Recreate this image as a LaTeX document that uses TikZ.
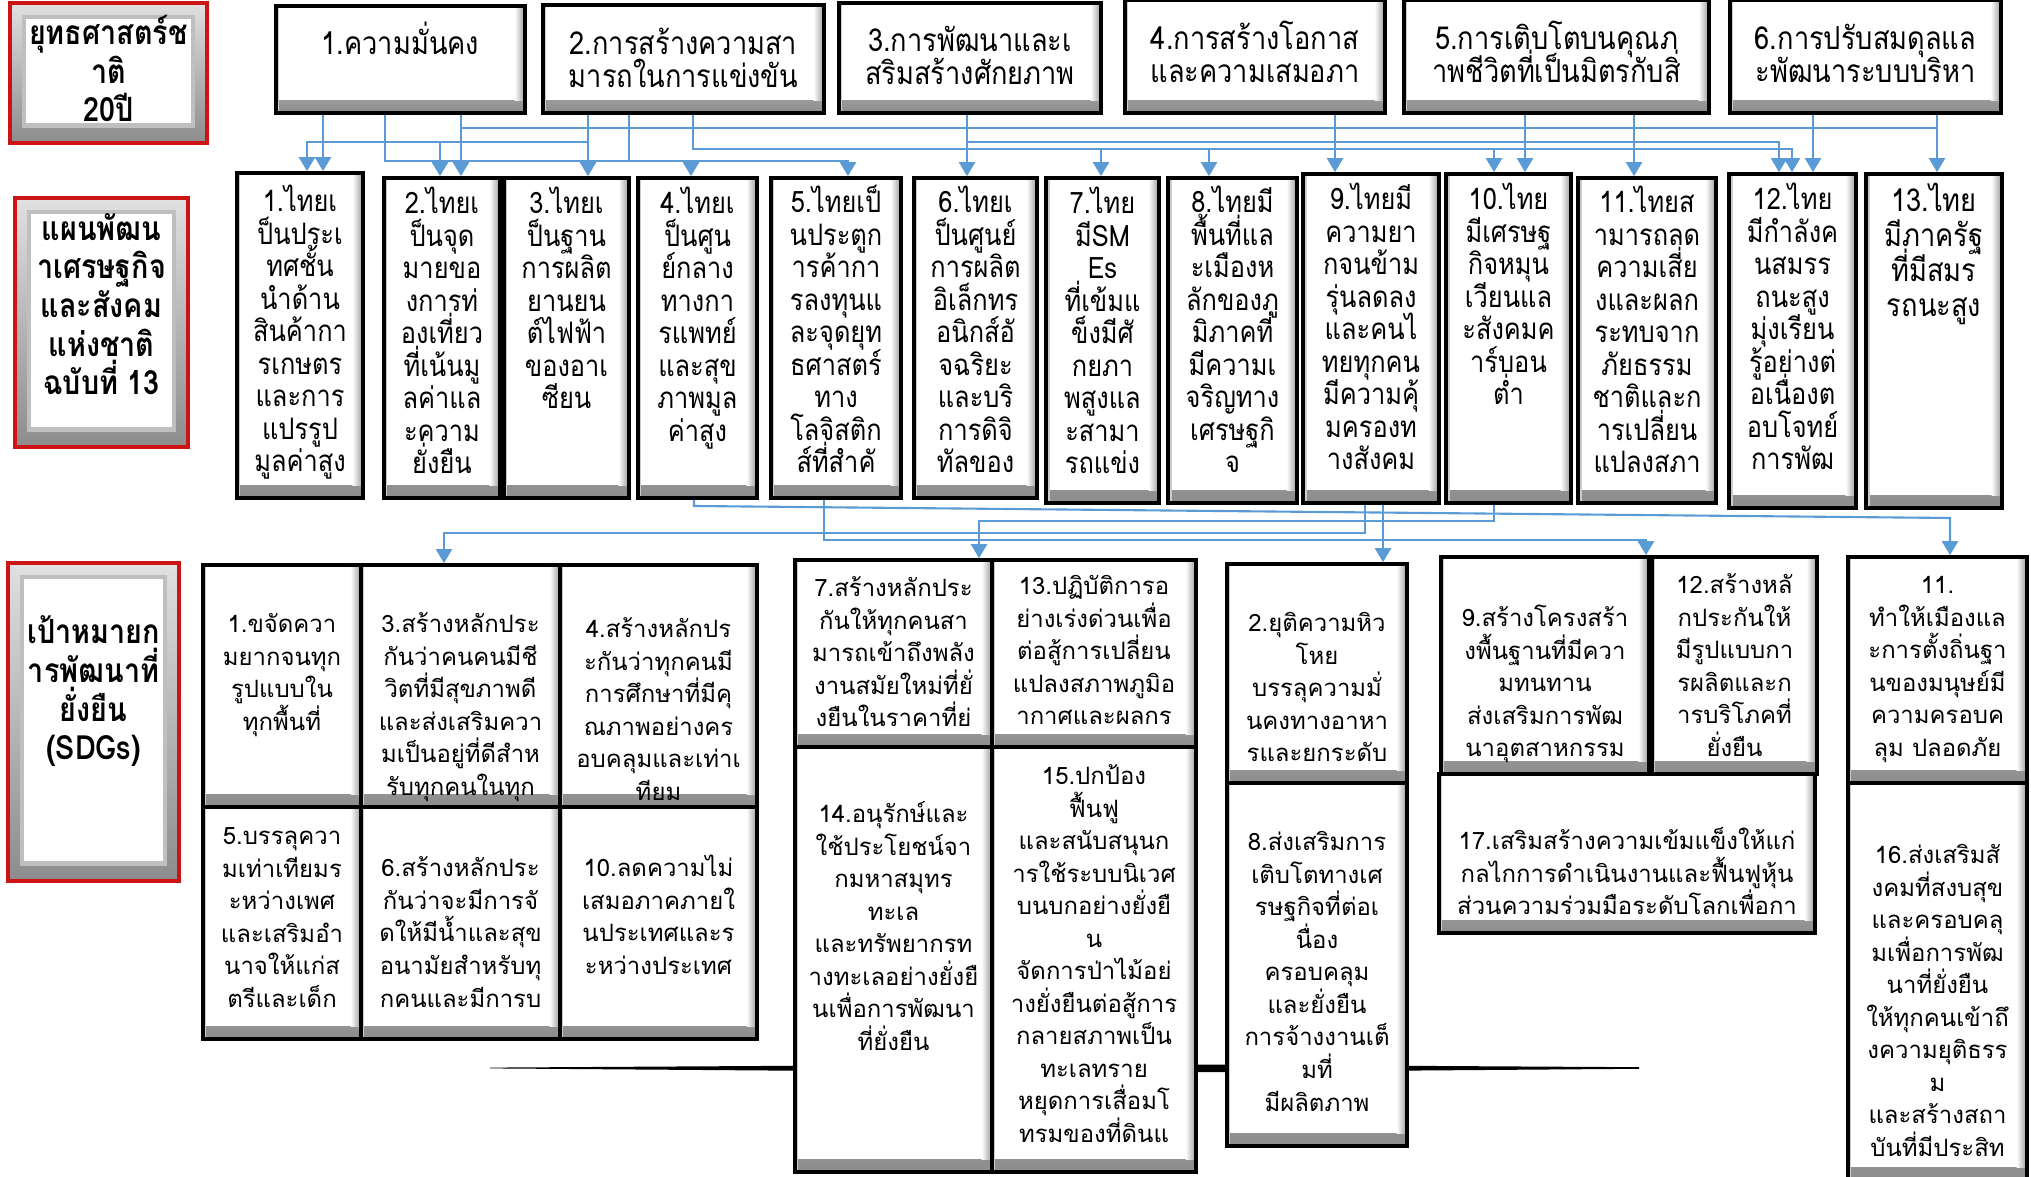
\documentclass[tikz,border=0pt]{standalone}
\usepackage{fontspec}
\newfontfamily\thaifont[Script=Thai]{Loma}
\newfontfamily\thaicond[Script=Thai, FakeStretch=0.86]{Loma}
\newcommand\fixedlines{\lineskiplimit=-20pt\relax}
\usepackage{tikz}
\usetikzlibrary{shapes, arrows.meta}
\definecolor{linkblue}{RGB}{91,155,213}
\definecolor{headred}{RGB}{204,20,20}
\tikzstyle{card} = [rectangle, draw, line width=1pt, fill=white, inner sep=0pt, path picture={
  \shade[top color=white, bottom color=black!45] ([yshift=3.5pt]path picture bounding box.south west) rectangle (path picture bounding box.south east);
  \shade[left color=white, right color=black!40] ([xshift=-3pt]path picture bounding box.north east) rectangle ([yshift=3.5pt]path picture bounding box.south east);
  \fill[black!20] (path picture bounding box.north west) rectangle ([xshift=1pt]path picture bounding box.south west);
}]
\tikzstyle{headcard} = [rectangle, draw=headred, line width=1.2pt, fill=black!30, inner sep=0pt, path picture={
  \shade[top color=black!12, bottom color=black!45] (path picture bounding box.south west) rectangle (path picture bounding box.north east);
  \draw[black!25, fill=white] ([xshift=4pt,yshift=-4pt]path picture bounding box.north west) rectangle ([xshift=-4pt,yshift=5pt]path picture bounding box.south east);
}]
% text nodes sit on the baseline of their last line, fixed line pitch
\tikzstyle{strattext} = [align=center, anchor=base, inner sep=0pt, font=\thaicond\fontsize{9}{9.4}\selectfont\fixedlines]
\tikzstyle{plantext} = [align=center, anchor=base, inner sep=0pt, font=\thaicond\fontsize{8.4}{9.25}\selectfont\fixedlines]
\tikzstyle{sdgtext} = [align=center, anchor=base, inner sep=0pt, font=\thaifont\fontsize{6.8}{9.25}\selectfont\fixedlines]
\tikzstyle{headtext} = [align=center, anchor=base, inner sep=0pt, font=\thaicond\bfseries\fontsize{9.5}{11}\selectfont\fixedlines]
\tikzstyle{connector} = [draw, color=linkblue, line width=0.6pt, -{Triangle[length=4pt, width=4.6pt]}]
\tikzstyle{bus} = [draw, color=linkblue, line width=0.6pt]

\begin{document}
\begin{tikzpicture}[x=0.01cm, y=-0.01cm]
\useasboundingbox (0,0) rectangle (2031,1177);

% brush stroke behind the SDG boxes
\fill (490,1067.6) -- (1100,1064) -- (1639,1067.2) -- (1639,1068.8) -- (1100,1073) -- (490,1068.4) -- cycle;

% row headings
\node [headcard, minimum width=1.97cm, minimum height=1.40cm] at (108.5,73) (head_1) {};
\node [headcard, minimum width=1.73cm, minimum height=2.49cm] at (101.5,322.5) (head_2) {};
\node [headcard, minimum width=1.71cm, minimum height=3.18cm] at (93.5,722) (head_3) {};

\node [headtext] at (108.5,122) (head_1_text) {ยุทธศาสตร์ช\\าติ\\20ปี};
\node [headtext] at (101.5,395) (head_2_text) {แผนพัฒน\\าเศรษฐกิจ\\และสังคม\\แห่งชาติ\\ฉบับที่ 13};
\node [headtext] at (93.5,760) (head_3_text) {เป้าหมายก\\ารพัฒนาที่\\ยั่งยืน\\(SDGs)};

% strategy row
\node [card, minimum width=2.49cm, minimum height=1.07cm] at (400.5,59.5) (strat_1) {};
\node [card, minimum width=2.81cm, minimum height=1.08cm] at (683.5,59) (strat_2) {};
\node [card, minimum width=2.62cm, minimum height=1.10cm] at (970,58) (strat_3) {};
\node [card, minimum width=2.60cm, minimum height=1.13cm] at (1255,56.5) (strat_4) {};
\node [card, minimum width=3.05cm, minimum height=1.13cm] at (1556.5,56.5) (strat_5) {};
\node [card, minimum width=2.71cm, minimum height=1.13cm] at (1865.5,56.5) (strat_6) {};

\node [strattext] at (400.5,55) (strat_1_text) {1.ความมั่นคง};
\node [strattext] at (683.5,88) (strat_2_text) {2.การสร้างความสา\\มารถในการแข่งขัน};
\node [strattext] at (970,85) (strat_3_text) {3.การพัฒนาและเ\\สริมสร้างศักยภาพ};
\node [strattext] at (1255,83) (strat_4_text) {4.การสร้างโอกาส\\และความเสมอภา};
\node [strattext] at (1556.5,83) (strat_5_text) {5.การเติบโตบนคุณภ\\าพชีวิตที่เป็นมิตรกับสิ่};
\node [strattext] at (1865.5,83) (strat_6_text) {6.การปรับสมดุลแล\\ะพัฒนาระบบบริหา};

% plan row
\node [card, minimum width=1.26cm, minimum height=3.25cm] at (300,335.5) (plan_1) {};
\node [card, minimum width=1.16cm, minimum height=3.20cm] at (442,338) (plan_2) {};
\node [card, minimum width=1.25cm, minimum height=3.20cm] at (566.5,338) (plan_3) {};
\node [card, minimum width=1.19cm, minimum height=3.20cm] at (697.5,338) (plan_4) {};
\node [card, minimum width=1.30cm, minimum height=3.20cm] at (836,338) (plan_5) {};
\node [card, minimum width=1.23cm, minimum height=3.20cm] at (975.5,338) (plan_6) {};
\node [card, minimum width=1.13cm, minimum height=3.25cm] at (1102.5,340.5) (plan_7) {};
\node [card, minimum width=1.29cm, minimum height=3.25cm] at (1232.5,340.5) (plan_8) {};
\node [card, minimum width=1.36cm, minimum height=3.29cm] at (1371,338.5) (plan_9) {};
\node [card, minimum width=1.25cm, minimum height=3.29cm] at (1508.5,338.5) (plan_10) {};
\node [card, minimum width=1.38cm, minimum height=3.25cm] at (1647,340.5) (plan_11) {};
\node [card, minimum width=1.27cm, minimum height=3.34cm] at (1792.5,341) (plan_12) {};
\node [card, minimum width=1.36cm, minimum height=3.34cm] at (1934,341) (plan_13) {};

\node [plantext] at (300,472) (plan_1_text) {1.ไทยเ\\ป็นประเ\\ทศชั้น\\นำด้าน\\สินค้ากา\\รเกษตร\\และการ\\แปรรูป\\มูลค่าสูง};
\node [plantext] at (442,474) (plan_2_text) {2.ไทยเ\\ป็นจุด\\มายขอ\\งการท่\\องเที่ยว\\ที่เน้นมู\\ลค่าแล\\ะความ\\ยั่งยืน};
\node [plantext] at (566.5,409) (plan_3_text) {3.ไทยเ\\ป็นฐาน\\การผลิต\\ยานยน\\ต์ไฟฟ้า\\ของอาเ\\ซียน};
\node [plantext] at (697.5,441.5) (plan_4_text) {4.ไทยเ\\ป็นศูน\\ย์กลาง\\ทางกา\\รแพทย์\\และสุข\\ภาพมูล\\ค่าสูง};
\node [plantext] at (836,473) (plan_5_text) {5.ไทยเป็\\นประตูก\\ารค้ากา\\รลงทุนแ\\ละจุดยุท\\ธศาสตร์\\ทาง\\โลจิสติก\\ส์ที่สำคั};
\node [plantext] at (975.5,473) (plan_6_text) {6.ไทยเ\\ป็นศูนย์\\การผลิต\\อิเล็กทร\\อนิกส์อั\\จฉริยะ\\และบริ\\การดิจิ\\ทัลของ};
\node [plantext] at (1102.5,474) (plan_7_text) {7.ไทย\\มีSM\\Es\\ที่เข้มแ\\ข็งมีศั\\กยภา\\พสูงแล\\ะสามา\\รถแข่ง};
\node [plantext] at (1232.5,473) (plan_8_text) {8.ไทยมี\\พื้นที่แล\\ะเมืองห\\ลักของภู\\มิภาคที่\\มีความเ\\จริญทาง\\เศรษฐกิ\\จ};
\node [plantext] at (1371,470) (plan_9_text) {9.ไทยมี\\ความยา\\กจนข้าม\\รุ่นลดลง\\และคนไ\\ทยทุกคน\\มีความคุ้\\มครองท\\างสังคม};
\node [plantext] at (1508.5,405) (plan_10_text) {10.ไทย\\มีเศรษฐ\\กิจหมุน\\เวียนแล\\ะสังคมค\\าร์บอน\\ต่ำ};
\node [plantext] at (1647,473) (plan_11_text) {11.ไทยส\\ามารถลด\\ความเสี่ย\\งและผลก\\ระทบจาก\\ภัยธรรม\\ชาติและก\\ารเปลี่ยน\\แปลงสภา};
\node [plantext] at (1792.5,470) (plan_12_text) {12.ไทย\\มีกำลังค\\นสมรร\\ถนะสูง\\มุ่งเรียน\\รู้อย่างต่\\อเนื่องต\\อบโจทย์\\การพัฒ};
\node [plantext, font=\thaicond\fontsize{9}{10}\selectfont\fixedlines] at (1934,317) (plan_13_text) {13.ไทย\\มีภาครัฐ\\ที่มีสมร\\รถนะสูง};

% SDG boxes
\node [card, minimum width=1.58cm, minimum height=2.42cm] at (282,686) (sdg_1) {};
\node [card, minimum width=1.99cm, minimum height=2.42cm] at (460.5,686) (sdg_3) {};
\node [card, minimum width=1.97cm, minimum height=2.42cm] at (658.5,686) (sdg_4) {};
\node [card, minimum width=1.58cm, minimum height=2.32cm] at (282,923) (sdg_5) {};
\node [card, minimum width=1.99cm, minimum height=2.32cm] at (460.5,923) (sdg_6) {};
\node [card, minimum width=1.97cm, minimum height=2.32cm] at (658.5,923) (sdg_10) {};
\node [card, minimum width=1.97cm, minimum height=1.87cm] at (893.5,653.5) (sdg_7) {};
\node [card, minimum width=2.04cm, minimum height=1.87cm] at (1094,653.5) (sdg_13) {};
\node [card, minimum width=1.97cm, minimum height=4.25cm] at (893.5,959.5) (sdg_14) {};
\node [card, minimum width=2.04cm, minimum height=4.25cm] at (1094,959.5) (sdg_15) {};
\node [card, minimum width=1.80cm, minimum height=2.19cm] at (1317,673.5) (sdg_2) {};
\node [card, minimum width=1.80cm, minimum height=3.63cm] at (1317,964.5) (sdg_8) {};
\node [card, minimum width=2.08cm, minimum height=2.17cm] at (1545,665.5) (sdg_9) {};
\node [card, minimum width=1.65cm, minimum height=2.17cm] at (1734.5,665.5) (sdg_12) {};
\node [card, minimum width=3.76cm, minimum height=1.59cm] at (1627,853.5) (sdg_17) {};
\node [card, minimum width=1.79cm, minimum height=2.26cm] at (1937.5,670) (sdg_11) {};
\node [card, minimum width=1.79cm, minimum height=3.97cm] at (1937.5,981.5) (sdg_16) {};

\node [sdgtext] at (282,730.5) (sdg_1_text) {1.ขจัดควา\\มยากจนทุก\\รูปแบบใน\\ทุกพื้นที่};
\node [sdgtext] at (460.5,795.5) (sdg_3_text) {3.สร้างหลักประ\\กันว่าคนคนมีชี\\วิตที่มีสุขภาพดี\\และส่งเสริมควา\\มเป็นอยู่ที่ดีสำห\\รับทุกคนในทุก};
\node [sdgtext] at (658.5,800.5) (sdg_4_text) {4.สร้างหลักปร\\ะกันว่าทุกคนมี\\การศึกษาที่มีคุ\\ณภาพอย่างคร\\อบคลุมและเท่าเ\\ทียม};
\node [sdgtext] at (282,1007.5) (sdg_5_text) {5.บรรลุควา\\มเท่าเทียมร\\ะหว่างเพศ\\และเสริมอำ\\นาจให้แก่ส\\ตรีและเด็ก};
\node [sdgtext] at (460.5,1007) (sdg_6_text) {6.สร้างหลักประ\\กันว่าจะมีการจั\\ดให้มีน้ำและสุข\\อนามัยสำหรับทุ\\กคนและมีการบ};
\node [sdgtext] at (658.5,974.5) (sdg_10_text) {10.ลดความไม่\\เสมอภาคภายใ\\นประเทศและร\\ะหว่างประเทศ};
\node [sdgtext] at (893.5,727) (sdg_7_text) {7.สร้างหลักประ\\กันให้ทุกคนสา\\มารถเข้าถึงพลัง\\งานสมัยใหม่ที่ยั่\\งยืนในราคาที่ย่};
\node [sdgtext] at (1094,725) (sdg_13_text) {13.ปฏิบัติการอ\\ย่างเร่งด่วนเพื่อ\\ต่อสู้การเปลี่ยน\\แปลงสภาพภูมิอ\\ากาศและผลกร};
\node [sdgtext] at (893.5,1050.5) (sdg_14_text) {14.อนุรักษ์และ\\ใช้ประโยชน์จา\\กมหาสมุทร\\ทะเล\\และทรัพยากรท\\างทะเลอย่างยั่งยื\\นเพื่อการพัฒนา\\ที่ยั่งยืน};
\node [sdgtext] at (1094,1142.5) (sdg_15_text) {15.ปกป้อง\\ฟื้นฟู\\และสนับสนุนก\\ารใช้ระบบนิเวศ\\บนบกอย่างยั่งยื\\น\\จัดการป่าไม้อย่\\างยั่งยืนต่อสู้การ\\กลายสภาพเป็น\\ทะเลทราย\\หยุดการเสื่อมโ\\ทรมของที่ดินแ};
\node [sdgtext] at (1317,762) (sdg_2_text) {2.ยุติความหิว\\โหย\\บรรลุความมั่\\นคงทางอาหา\\รและยกระดับ};
\node [sdgtext] at (1317,1111) (sdg_8_text) {8.ส่งเสริมการ\\เติบโตทางเศ\\รษฐกิจที่ต่อเ\\นื่อง\\ครอบคลุม\\และยั่งยืน\\การจ้างงานเต็\\มที่\\มีผลิตภาพ};
\node [sdgtext] at (1545,757) (sdg_9_text) {9.สร้างโครงสร้า\\งพื้นฐานที่มีควา\\มทนทาน\\ส่งเสริมการพัฒ\\นาอุตสาหกรรม};
\node [sdgtext] at (1734.5,756.5) (sdg_12_text) {12.สร้างหลั\\กประกันให้\\มีรูปแบบกา\\รผลิตและก\\ารบริโภคที่\\ยั่งยืน};
\node [sdgtext] at (1627,915) (sdg_17_text) {17.เสริมสร้างความเข้มแข็งให้แก่\\กลไกการดำเนินงานและฟื้นฟูหุ้น\\ส่วนความร่วมมือระดับโลกเพื่อกา};
\node [sdgtext] at (1937.5,756.5) (sdg_11_text) {11.\\ทำให้เมืองแล\\ะการตั้งถิ่นฐา\\นของมนุษย์มี\\ความครอบค\\ลุม ปลอดภัย};
\node [sdgtext] at (1937.5,1156.5) (sdg_16_text) {16.ส่งเสริมสั\\งคมที่สงบสุข\\และครอบคลุ\\มเพื่อการพัฒ\\นาที่ยั่งยืน\\ให้ทุกคนเข้าถึ\\งความยุติธรร\\ม\\และสร้างสถา\\บันที่มีประสิท};

% strategy -> plan
\coordinate (drop_a) at (323,120);
\coordinate (drop_b) at (1335,120);
\coordinate (drop_c) at (1525,120);
\coordinate (drop_d) at (1634,120);
\coordinate (drop_e) at (1813,120);
\coordinate (bus128_w) at (461,128);
\coordinate (bus128_e) at (1937,128);
\coordinate (bus142_w) at (307,142);
\coordinate (bus142_m) at (440,142);
\coordinate (bus142_e) at (588,142);
\coordinate (bus142_f) at (967,142);
\coordinate (bus142_g) at (1779,142);
\coordinate (bus149_a) at (693,149);
\coordinate (bus149_b) at (1101,149);
\coordinate (bus149_c) at (1209,149);
\coordinate (bus149_d) at (1494,149);
\coordinate (bus149_e) at (1792,149);
\coordinate (bus161_a) at (385,161);
\coordinate (bus161_b) at (629,161);
\coordinate (bus161_c) at (691,161);
\coordinate (bus161_d) at (848,161);

\path [connector] (strat_1.south -| drop_a) -- (drop_a |- plan_1.north);
\path [connector] (strat_1.south -| bus128_w) -- (bus128_w |- plan_2.north);
\path [connector] (strat_6.south -| bus128_e) -- (bus128_e |- plan_13.north);
\path [bus] (bus128_w) -- (bus128_e);

\path [connector] (strat_2.south -| bus142_e) -- (bus142_e |- plan_3.north);
\path [connector] (bus142_e) -| (plan_1.north -| bus142_w);
\path [connector] (bus142_m) -- (bus142_m |- plan_2.north);

\path [connector] (strat_1.south -| bus161_a) -- (bus161_a) -| (plan_5.north -| bus161_d);
\path [bus] (strat_2.south -| bus161_b) -- (bus161_b);
\path [connector] (bus161_c) -- (bus161_c |- plan_4.north);

\path [connector] (strat_2.south -| bus149_a) -- (bus149_a) -| (plan_12.north -| bus149_e);
\path [connector] (bus149_b) -- (bus149_b |- plan_7.north);
\path [connector] (bus149_c) -- (bus149_c |- plan_8.north);
\path [connector] (bus149_d) -- (bus149_d |- plan_10.north);

\path [connector] (strat_3.south -| bus142_f) -- (bus142_f |- plan_6.north);
\path [connector] (bus142_f) -| (plan_12.north -| bus142_g);

\path [connector] (strat_4.south -| drop_b) -- (drop_b |- plan_9.north);
\path [connector] (strat_5.south -| drop_c) -- (drop_c |- plan_10.north);
\path [connector] (strat_5.south -| drop_d) -- (drop_d |- plan_11.north);
\path [connector] (strat_6.south -| drop_e) -- (drop_e |- plan_12.north);

% plan -> SDG
\coordinate (low_a) at (694,506);
\coordinate (low_b) at (1950,518);
\coordinate (low_c) at (824,540);
\coordinate (low_d) at (1646,540);
\coordinate (low_e) at (1365,533);
\coordinate (low_f) at (444,533);
\coordinate (low_g) at (1383,520);
\coordinate (low_h) at (1494,521);
\coordinate (low_i) at (979,521);

\path [connector] (plan_4.south -| low_a) -- (low_a) -- (low_b) -- (low_b |- sdg_11.north);
\path [connector] (plan_5.south -| low_c) -- (low_c) -| (sdg_9.north -| low_d);
\path [connector] (plan_9.south -| low_e) -- (low_e) -| (sdg_3.north -| low_f);
\path [connector] (plan_9.south -| low_g) -- (low_g |- sdg_2.north);
\path [connector] (plan_10.south -| low_h) -- (low_h) -| (sdg_7.north -| low_i);

\end{tikzpicture}
\end{document}
